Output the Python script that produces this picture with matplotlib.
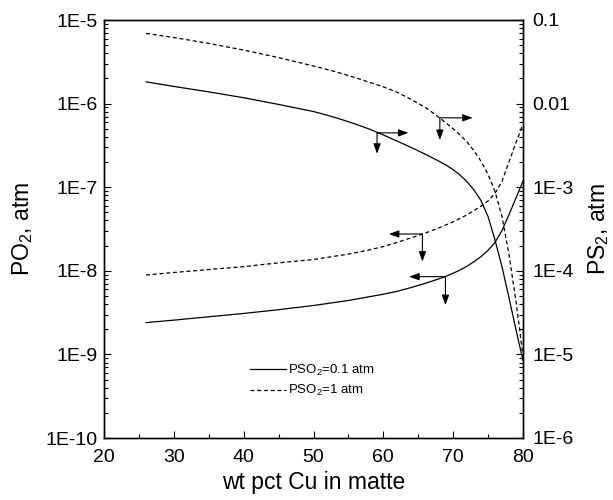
import numpy as np
import matplotlib
matplotlib.use('Agg')
import matplotlib.pyplot as plt
from matplotlib.ticker import LogLocator, NullFormatter, MultipleLocator, FixedLocator, FixedFormatter

plt.rcParams['font.family'] = ['Liberation Sans', 'DejaVu Sans']
plt.rcParams['mathtext.fontset'] = 'custom'
plt.rcParams['mathtext.rm'] = 'Liberation Sans'
plt.rcParams['mathtext.it'] = 'Liberation Sans:italic'

# ---- data (log10 values) ----
# PO2 (left axis), PSO2 = 0.1 atm (solid)
x_po2_a = [26, 30, 35, 40, 45, 50, 52, 54, 56, 58, 60, 62, 64, 66, 68, 69, 70, 71, 72, 73, 74, 75, 76, 77, 78, 79, 80]
lg_po2_a = [-5.74, -5.795, -5.86, -5.93, -6.01, -6.095, -6.14, -6.19, -6.245, -6.305, -6.375, -6.45, -6.525,
            -6.605, -6.69, -6.735, -6.79, -6.855, -6.935, -7.035, -7.16, -7.35, -7.63, -7.95, -8.32, -8.70, -9.07]
# PO2 (left axis), PSO2 = 1 atm (dashed)
x_po2_b = [26, 30, 35, 40, 45, 50, 53, 56, 58, 60, 62, 64, 66, 68, 70, 71, 72, 73, 74, 75, 76, 77, 78, 78.5, 79, 79.5, 80]
lg_po2_b = [-5.16, -5.21, -5.28, -5.36, -5.45, -5.55, -5.615, -5.69, -5.745, -5.80, -5.865, -5.95, -6.045,
            -6.165, -6.30, -6.375, -6.46, -6.565, -6.69, -6.845, -7.05, -7.35, -7.80, -8.08, -8.36, -8.68, -9.02]
# PS2 (right axis), PSO2 = 0.1 atm (solid)
x_ps2_a = [26, 30, 35, 40, 45, 50, 55, 60, 62, 64, 66, 68, 69, 70, 71, 72, 73, 74, 75, 76, 77, 78, 79, 80]
lg_ps2_a = [-4.62, -4.59, -4.55, -4.51, -4.465, -4.415, -4.355, -4.28, -4.245, -4.20, -4.15, -4.095, -4.065,
            -4.03, -3.99, -3.945, -3.89, -3.83, -3.755, -3.66, -3.52, -3.33, -3.13, -2.93]
# PS2 (right axis), PSO2 = 1 atm (dashed)
x_ps2_b = [26, 30, 35, 40, 45, 50, 55, 58, 60, 62, 64, 66, 68, 70, 72, 73, 74, 75, 76, 77, 78, 79, 80]
lg_ps2_b = [-4.05, -4.02, -3.985, -3.95, -3.905, -3.865, -3.80, -3.75, -3.71, -3.66, -3.605, -3.55, -3.485,
            -3.415, -3.33, -3.28, -3.225, -3.165, -3.075, -2.93, -2.70, -2.47, -2.25]

left_ticks = [1e-10, 1e-9, 1e-8, 1e-7, 1e-6, 1e-5]
left_labels = ['1E-10', '1E-9', '1E-8', '1E-7', '1E-6', '1E-5']
right_ticks = [1e-6, 1e-5, 1e-4, 1e-3, 1e-2, 1e-1]
right_labels = ['1E-6', '1E-5', '1E-4', '1E-3', '0.01', '0.1']
x_ticks = [20, 30, 40, 50, 60, 70, 80]

legend_labels = ['PSO$_2$=0.1 atm', 'PSO$_2$=1 atm']

fig = plt.figure(figsize=(6.13, 5), dpi=100)
ax = fig.add_axes([0.170, 0.124, 0.683, 0.836])
ax2 = ax.twinx()

lw = 0.9
dash = (0, (3.2, 2.2))
l1, = ax.plot(x_po2_a, 10 ** np.array(lg_po2_a), color='k', lw=lw)
l2, = ax.plot(x_po2_b, 10 ** np.array(lg_po2_b), color='k', lw=lw, linestyle=dash)
ax2.plot(x_ps2_a, 10 ** np.array(lg_ps2_a), color='k', lw=lw)
ax2.plot(x_ps2_b, 10 ** np.array(lg_ps2_b), color='k', lw=lw, linestyle=dash)

ax.set_xlim(20, 80)
ax.set_yscale('log')
ax.set_ylim(1e-10, 1e-5)
ax2.set_yscale('log')
ax2.set_ylim(1e-6, 1e-1)

ax.xaxis.set_major_locator(FixedLocator(x_ticks))
ax.xaxis.set_minor_locator(MultipleLocator(5))
ax.yaxis.set_major_locator(FixedLocator(left_ticks))
ax.yaxis.set_major_formatter(FixedFormatter(left_labels))
ax.yaxis.set_minor_locator(LogLocator(base=10, subs=np.arange(2, 10)))
ax.yaxis.set_minor_formatter(NullFormatter())
ax2.yaxis.set_major_locator(FixedLocator(right_ticks))
ax2.yaxis.set_major_formatter(FixedFormatter(right_labels))
ax2.yaxis.set_minor_locator(LogLocator(base=10, subs=np.arange(2, 10)))
ax2.yaxis.set_minor_formatter(NullFormatter())

for a in (ax, ax2):
    a.tick_params(which='both', direction='in', top=False, labelsize=14, width=0.8)
    a.tick_params(which='major', length=5)
    a.tick_params(which='minor', length=3)
    for s in a.spines.values():
        s.set_linewidth(1.0)
ax.tick_params(axis='y', right=False, pad=4.5)
ax.tick_params(axis='x', pad=8)
ax2.tick_params(axis='y', left=False, pad=7)

ax.set_xlabel('wt pct Cu in matte', fontsize=16.5)
ax.set_ylabel('PO$_2$, atm', fontsize=16.5)
ax2.set_ylabel('PS$_2$, atm', fontsize=16.5)
ax.xaxis.set_label_coords(0.5, -0.08)
ax.yaxis.set_label_coords(-0.165, 0.5)
ax2.yaxis.set_label_coords(1.152, 0.5)

# arrows indicating which axis each curve belongs to (left-axis log coordinates)
arrows = [
    ((59.1, -6.35), (63.6, -6.35), (59.1, -6.60)),
    ((68.1, -6.17), (72.8, -6.17), (68.1, -6.435)),
    ((65.6, -7.56), (60.8, -7.56), (65.6, -7.89)),
    ((68.9, -8.07), (63.7, -8.07), (68.9, -8.41)),
]
aprops = dict(arrowstyle='-|>,head_length=0.6,head_width=0.22', lw=0.8, color='k',
              shrinkA=0, shrinkB=0, mutation_scale=10)
for (cx, cy), (hx, hy), (vx, vy) in arrows:
    ax2.annotate('', xy=(hx, 10 ** (hy + 4)), xytext=(cx, 10 ** (cy + 4)), arrowprops=aprops)
    ax2.annotate('', xy=(vx, 10 ** (vy + 4)), xytext=(cx, 10 ** (cy + 4)), arrowprops=aprops)

leg = ax.legend([l1, l2], legend_labels, loc='upper left', bbox_to_anchor=(0.348, 0.18),
                frameon=False, fontsize=9.5, handlelength=2.7, handletextpad=0.15,
                borderpad=0, borderaxespad=0, labelspacing=0.4)

fig.savefig('out.png', dpi=100)
